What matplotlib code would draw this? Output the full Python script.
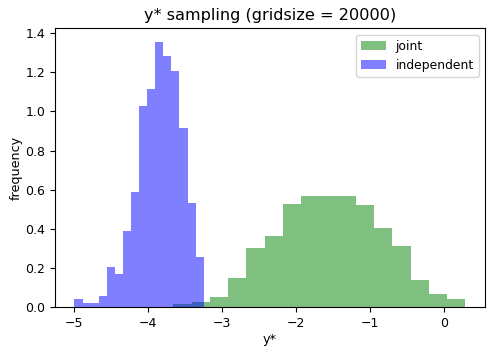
import numpy as np
import matplotlib
matplotlib.use("Agg")
import matplotlib.pyplot as plt

# independent sampling histogram (density)
indep_range = (-5.0, -3.252)
indep_heights = [0.039, 0.019, 0.019, 0.056, 0.204, 0.167, 0.387, 0.588,
                 1.027, 1.117, 1.357, 1.284, 1.209, 0.918, 0.531, 0.257]

# joint sampling histogram (density)
joint_range = (-3.663, 0.29)
joint_heights = [0.017, 0.025, 0.049, 0.147, 0.300, 0.364, 0.526, 0.569,
                 0.569, 0.569, 0.520, 0.405, 0.310, 0.140, 0.065, 0.041]

title = "y* sampling (gridsize = 20000)"
xlabel = "y*"
ylabel = "frequency"

plt.rcParams["font.size"] = 9.0

fig = plt.figure(figsize=(4.99, 3.55), dpi=100)
ax = fig.add_axes([0.110, 0.135, 0.862, 0.785])

je = np.linspace(joint_range[0], joint_range[1], len(joint_heights) + 1)
ie = np.linspace(indep_range[0], indep_range[1], len(indep_heights) + 1)

ax.hist(je[:-1], bins=je, weights=joint_heights, color="g", alpha=0.5, label="joint")
ax.hist(ie[:-1], bins=ie, weights=indep_heights, color="b", alpha=0.5, label="independent")

ax.set_title(title, fontsize=11.6)
ax.set_xlabel(xlabel, fontsize=9.2, labelpad=2.0)
ax.set_ylabel(ylabel, fontsize=9.2, labelpad=2.0)
ax.legend(loc="upper right", fontsize=8.9)

fig.savefig("out.png", dpi=100)
